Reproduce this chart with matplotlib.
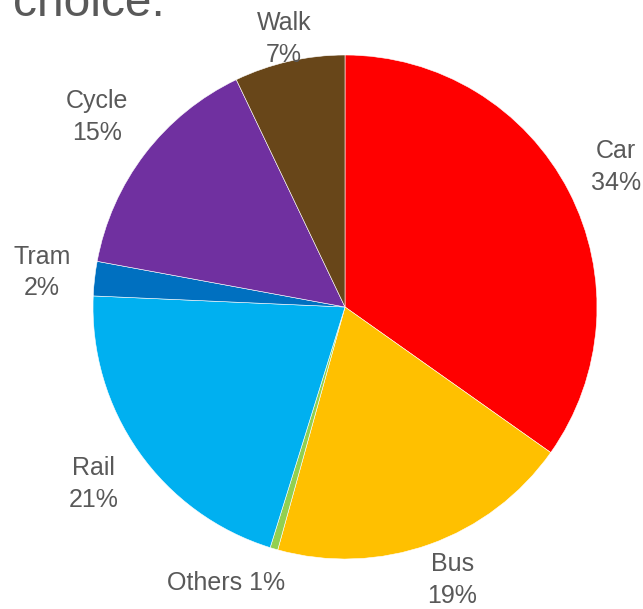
import numpy as np
import matplotlib.pyplot as plt

# Mode share data
modes = ['Car', 'Bus', 'Others', 'Rail', 'Tram', 'Cycle', 'Walk']
shares = [34.8, 19.5, 0.5, 20.9, 2.2, 15.0, 7.1]
share_labels = ['34%', '19%', '1%', '21%', '2%', '15%', '7%']
colors = ['#FF0000', '#FFC000', '#92D050', '#00B0F0', '#0070C0', '#7030A0', '#684619']

plt.rcParams['font.family'] = ['Liberation Sans', 'DejaVu Sans']
grey = '#595959'

fig = plt.figure(figsize=(6.43, 6.09), dpi=100)
ax = fig.add_axes([93 / 643, 50 / 609, 504 / 643, 504 / 609])

wedges, _ = ax.pie(shares, colors=colors, startangle=90, counterclock=False,
                   wedgeprops=dict(edgecolor='white', linewidth=0.4))
ax.set_xlim(-1, 1)
ax.set_ylim(-1, 1)
ax.set_aspect('equal')
ax.axis('off')

# label distance per slice
dist = [1.21, 1.15, 1.12, 1.22, 1.21, 1.24, 1.09]
for w, name, pct, d in zip(wedges, modes, share_labels, dist):
    ang = np.deg2rad((w.theta1 + w.theta2) / 2)
    x, y = d * np.cos(ang), d * np.sin(ang)
    if name == 'Others':
        ax.text(x + 0.08, y - 0.02, f'{name} {pct}', ha='right', va='center',
                fontsize=18, color=grey, clip_on=False)
    elif name == 'Bus':
        ax.text(x + 0.04, y, f'{name}\n{pct}', ha='center', va='center',
                fontsize=18, color=grey, linespacing=1.4, clip_on=False)
    else:
        ax.text(x, y, f'{name}\n{pct}', ha='center', va='center',
                fontsize=18, color=grey, linespacing=1.4, clip_on=False)

fig.text(13 / 643, 1 - 16 / 609, 'choice.', fontsize=34.5, color=grey,
         ha='left', va='baseline')

fig.savefig('out.png', dpi=100)
